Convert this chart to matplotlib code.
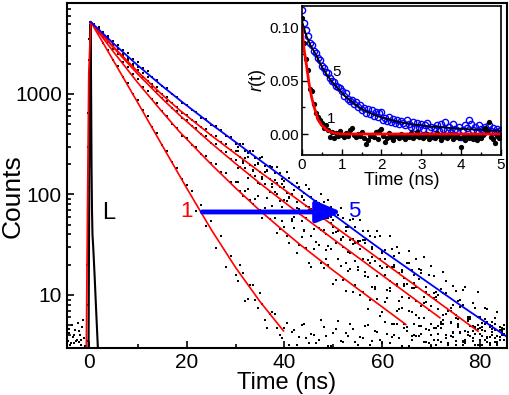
import numpy as np
import matplotlib
matplotlib.use("Agg")
import matplotlib.pyplot as plt
from matplotlib.ticker import MultipleLocator, LogLocator, NullFormatter, FixedLocator

plt.rcParams['font.family'] = ['Liberation Sans', 'DejaVu Sans']
plt.rcParams['mathtext.fontset'] = 'custom'
plt.rcParams['mathtext.it'] = 'Liberation Sans:italic'
plt.rcParams['mathtext.rm'] = 'Liberation Sans'

# ---- main decay data (counts at 1 ns channels, t = 1..85 ns) ----
t_start, t_stop = 1, 85

counts_1 = [4740, 4010, 3210, 2740, 2180, 1880, 1490, 1280, 1010, 875, 690, 598, 468, 405, 314, 272, 211, 184, 141, 125,
            108, 69, 79, 48.6, 55, 29.2, 39, 18.8, 24.2, 15.9, 20.1, 8.8, 12.6, 8.9, 10.5, 5.6, 6.4, 6.5, 4.0, 4.7,
            3.2, 4.5, 3.8, 5.1, 3.3, 4.0, 3.6, 4.8, 3.1, 4.2, 5.5, 3.4, 3.9, 4.6, 3.2, 3.7, 5.0, 3.5, 4.3, 3.3,
            4.1, 3.8, 5.2, 3.1, 4.4, 3.6, 3.9, 4.9, 3.4, 4.0, 3.2, 4.7, 3.7, 5.3, 3.5, 4.2, 3.3, 3.9, 4.8, 3.6,
            4.4, 3.2, 5.1, 3.8, 4.0]
counts_2 = [4880, 4330, 3680, 3270, 2770, 2480, 2090, 1870, 1570, 1420, 1180, 1070, 890, 805, 670, 610, 505, 462, 385, 366,
            312, 299, 252, 244, 204, 199, 166, 162, 134, 133, 108, 109, 88, 90, 70, 73, 57, 59, 45, 48,
            32.8, 46, 31.4, 43.4, 21, 28.6, 31.2, 18.7, 20, 13, 23, 14.1, 17.4, 10.6, 17.7, 10.6, 7.2, 11.9, 9.1, 6.8,
            11.1, 5.1, 6.9, 7.5, 4.8, 3.9, 6.3, 4.1, 4.6, 3.1, 4.7, 3.4, 4.0, 5.4, 3.2, 4.3, 3.6, 4.9, 3.2, 4.1,
            5.8, 3.3, 4.5, 3.8, 5.0]
counts_3 = [4950, 4490, 3900, 3530, 3060, 2790, 2410, 2190, 1890, 1730, 1490, 1360, 1170, 1080, 920, 850, 725, 670, 575, 550,
            478, 458, 396, 382, 328, 318, 272, 264, 225, 221, 187, 184, 155, 153, 128, 127, 106, 106, 87, 88,
            92, 59.5, 70, 44, 70, 45, 46, 56.7, 31, 41.4, 23, 37.5, 26.6, 36.4, 19.2, 23, 15, 23.9, 15.3, 18.7,
            9.4, 19.1, 12.2, 9.5, 12.9, 6.7, 11.9, 7.7, 8.5, 5.1, 9.5, 5.2, 6.4, 3.9, 6.3, 4.2, 3.4, 4.9, 4.1, 3.2,
            5.2, 3.8, 3.4, 4.5, 4.1]
counts_4 = [4960, 4530, 3950, 3610, 3150, 2890, 2510, 2300, 2000, 1840, 1600, 1460, 1270, 1170, 1010, 935, 805, 745, 650, 620,
            550, 525, 465, 445, 392, 378, 331, 320, 280, 271, 236, 230, 198, 195, 168, 166, 141, 140, 118, 119,
            94.5, 111.5, 71, 102.5, 75, 59.5, 83, 44, 59, 47.5, 62, 30, 47, 32.5, 34.5, 43.5, 22.5, 30, 15.6, 27.5,
            19, 28.5, 12.8, 17.6, 12.8, 17.7, 8.8, 16.7, 10.6, 7.8, 10.8, 5.4, 10.4, 7.4, 5.9, 9, 4.4, 6.1, 4.7, 6.0,
            3.6, 4.8, 3.7, 4.8, 3.6]
counts_5 = [5010, 4620, 4090, 3790, 3340, 3100, 2730, 2540, 2220, 2080, 1820, 1710, 1480, 1390, 1210, 1140, 990, 940, 815, 785,
            690, 665, 580, 565, 490, 480, 440, 380, 375, 320, 318, 270, 270, 228, 230, 192, 193, 163, 165, 136,
            146, 110, 118, 88, 114, 83, 64, 85, 88, 56, 43, 58, 49, 57, 34, 35, 43, 29, 43, 26,
            19, 29, 30, 17, 21, 11.7, 23, 17.6, 11.9, 19.5, 9, 11.5, 13.8, 6.9, 10.9, 7.6, 12.1, 5.8, 7.4, 4.7,
            7.4, 5.0, 5.9, 3.6, 4.6]

# tail readings at the half-channel times, t = 30.5..84.5 ns
half_start, half_stop = 30.5, 84.5
tail_1 = [13.9, 16.4, 9.2, 12.6, 7.4, 8.1, 4.7, 6.8, 4.7, 3.7, 5.3,
          4.3, 3.2, 5.0, 3.7, 4.1, 3.3, 5.6, 3.9, 3.1, 4.6, 3.5, 4.2, 5.2, 3.4, 3.8, 4.9, 3.2, 4.4, 3.6, 5.4,
          3.3, 4.0, 3.7, 4.7, 3.1, 5.1, 3.9, 3.4, 4.5, 3.6, 4.1, 5.7, 3.3, 3.8, 4.8, 3.2, 4.3, 3.5, 5.0, 3.9,
          3.4, 4.6, 3.2, 4.0]
tail_2 = [133, 96, 114, 80, 96, 59, 68, 77, 41, 55, 39, 55, 26, 38, 29.5, 19, 34, 21, 23, 29,
          14.2, 19.6, 10.9, 18, 12.7, 9.9, 15.5, 8.9, 11.4, 6.2, 8.5, 11, 5.2, 7.2, 5.2, 6.9, 4.0, 4.9, 5.9, 3.3,
          4.7, 3.6, 5.2, 3.2, 4.3, 5.8, 3.4, 4.0, 4.9, 3.2, 4.5, 3.8, 5.4, 3.3, 4.3]
tail_3 = [183, 207, 145, 177, 129, 141, 93, 127, 101, 75, 104, 57, 74, 55, 76, 39, 58, 44, 28, 52.5,
          33, 36, 21, 35, 22, 34.5, 17, 21, 12, 22.8, 15.8, 11.7, 19.7, 8.8, 12.8, 9.4, 13.2, 5.9, 9.6, 7.1,
          10.4, 4.9, 6.3, 6.9, 4.2, 5.2, 3.5, 5.5, 3.7, 4.6, 3.2, 5.4, 4.0, 3.4, 4.7]
tail_4 = [268, 214, 235, 173, 203, 150, 176, 120, 130, 143, 87, 126, 84, 94, 58.5, 94, 64, 73, 40, 60,
          65, 35, 43, 26, 48, 29, 35, 21, 37.5, 19.6, 23, 13.7, 24.3, 16.5, 12.4, 20.7, 11.7, 14.4, 8.3, 15.8,
          9.4, 7.3, 10.4, 6.9, 8.0, 5.0, 8.0, 5.8, 4.4, 6.1, 4.8, 3.7, 4.9, 3.9, 4.5]
tail_5 = [298, 318, 257, 273, 205, 235, 170, 187, 189, 128, 166, 102, 129, 96, 124, 71, 87, 100, 58, 75,
          42, 74, 48, 56, 33, 56, 33, 38.5, 22, 39, 28, 39, 19, 26.4, 14.8, 27.6, 15.8, 18.2, 24, 10.1,
          15.6, 9.9, 17, 7.1, 12.2, 8.7, 11.3, 6.0, 8.3, 10.6, 5.3, 7.2, 4.3, 6.8, 4.7]

# baseline before the pulse and the rising edge
bg_t = [-4.3, -4.0, -3.8, -3.5, -3.3, -3.0, -2.8, -2.5, -2.3, -2.0, -1.8, -1.5, -1.3, -1.0, -0.8,
        -4.1, -3.6, -3.1, -2.6, -2.1, -1.6, -1.1]
bg_counts = [3.5, 4.2, 3.2, 5.0, 3.8, 3.3, 4.5, 3.6, 5.3, 3.4, 4.0, 3.2, 4.8, 3.7, 3.1,
             4.6, 3.3, 4.0, 3.5, 4.4, 3.6, 5.6]
rise_t = [-0.4, -0.35, -0.3, -0.25, -0.2, -0.15, -0.1, -0.05, 0.0, 0.1, 0.2, 0.3]
rise_counts = [3.5, 8, 20, 50, 120, 300, 650, 1300, 2200, 3500, 4600, 5200]

# fitted curves (knots)
fit_rise_t = [-0.5, -0.25, 0.0, 0.4]
fit_rise_c = [3, 80, 1600, 5200]
fit1_t = [0.4, 5, 10, 15, 20, 25, 30, 35, 39.8]
fit1_c = [5200, 2158, 820, 308, 116, 45, 18.8, 8.6, 4.4]
fit2_t = [0.4, 5, 10, 15, 18.5, 25, 30, 35, 40, 43.1, 50, 55, 60, 64.8]
fit2_c = [5200, 2640, 1294, 664, 423, 200, 116, 69, 42.7, 32, 17.5, 11.5, 7.6, 5.1]
fit3_t = [0.4, 5, 10, 15, 18.5, 25, 30, 35, 40, 43.1, 50, 60, 71.8]
fit3_c = [5200, 2904, 1578, 897, 619, 325, 203, 129, 83.6, 64.1, 35.9, 15.7, 5.93]
fit4_t = [0.4, 5, 10, 15, 18.5, 25, 30, 35, 43.1, 60, 79.6]
fit4_c = [5200, 2965, 1667, 982, 695, 388, 254, 167.5, 86.1, 21.6, 4.36]
fit5_t = [0.4, 5, 10, 15, 19, 25, 30, 35, 40, 46.6, 55, 60.1, 67.1, 76.5, 85.3]
fit5_c = [5200, 3192, 1923, 1199, 838, 502, 332, 219, 145, 83.8, 41.7, 27.5, 15.9, 7.6, 3.9]

# laser pulse (IRF)
L_t = [-0.05, 0.15, 0.35, 0.45, 0.55, 0.65, 0.75, 0.9, 1.2, 1.5, 1.85]
L_c = [3, 800, 5000, 1500, 200, 70, 40, 30, 15, 7, 3]

# ---- inset: anisotropy r(t), 0.05 ns channels from 0 to 5 ns ----
r_step = 0.05
r5 = [0.116, 0.104, 0.097, 0.092, 0.085, 0.083, 0.078, 0.076, 0.071, 0.069,
      0.064, 0.062, 0.058, 0.057, 0.052, 0.050, 0.049, 0.045, 0.044, 0.043,
      0.040, 0.036, 0.038, 0.033, 0.031, 0.032, 0.028, 0.030, 0.025, 0.027,
      0.022, 0.024, 0.020, 0.023, 0.019, 0.022, 0.017, 0.021, 0.016, 0.020,
      0.021, 0.013, 0.015, 0.012, 0.016, 0.011, 0.014, 0.010, 0.013, 0.009,
      0.012, 0.010, 0.008, 0.013, 0.009, 0.007, 0.011, 0.006, 0.010, 0.007,
      0.009, 0.005, 0.008, 0.010, 0.004, 0.007, -0.002, 0.006, 0.008, 0.003,
      0.009, 0.005, 0.011, 0.004, 0.007, 0.002, 0.009, 0.005, 0.003, 0.007,
      -0.003, 0.004, 0.008, 0.006, 0.013, 0.009, 0.004, 0.007, 0.002, 0.008,
      0.005, 0.001, 0.007, 0.004, 0.008, 0.003, 0.006, 0.002, 0.005, 0.003, 0.004]
r1 = [0.108, 0.085, 0.070, 0.060, 0.042, 0.040, 0.028, 0.020, 0.016, 0.013,
      0.010, 0.006, 0.008, 0.004, -0.003, 0.002, -0.004, 0.001, -0.002, 0.003,
      -0.001, -0.003, 0.001, -0.002, 0.004, 0.006, -0.001, -0.003, 0.000, -0.002,
      0.002, -0.004, -0.009, -0.006, -0.002, -0.001, -0.003, 0.002, -0.005, 0.003,
      0.005, -0.002, -0.007, -0.004, 0.001, -0.003, -0.006, -0.002, -0.001, -0.004,
      0.000, -0.003, -0.005, -0.001, -0.003, 0.001, -0.004, -0.002, 0.002, -0.003,
      -0.001, -0.004, -0.002, 0.000, -0.005, -0.003, -0.001, -0.004, 0.001, -0.002,
      -0.006, -0.003, -0.001, -0.004, -0.002, 0.000, -0.005, -0.003, -0.001, -0.004,
      -0.012, -0.003, -0.006, -0.002, -0.004, -0.001, -0.005, -0.003, -0.006, -0.002,
      -0.004, -0.001, 0.006, 0.003, 0.011, -0.003, -0.005, -0.008, -0.002, -0.004, -0.003]
rfit1_t = [0, 0.05, 0.12, 0.18, 0.24, 0.3, 0.41, 0.5, 0.65, 0.8, 1.0, 5.0]
rfit1_r = [0.100, 0.080, 0.063, 0.047, 0.035, 0.026, 0.013, 0.008, 0.003, 0.001, 0.0, 0.0]
rfit5_t = [0, 0.1, 0.2, 0.33, 0.5, 0.65, 0.8, 1.08, 1.3, 1.5, 1.75, 2.0, 2.4, 2.76, 3.2, 3.6, 4.2, 5.0]
rfit5_r = [0.106, 0.093, 0.084, 0.0757, 0.063, 0.054, 0.047, 0.0355, 0.029, 0.0235, 0.019, 0.0155,
           0.0115, 0.0092, 0.0072, 0.006, 0.0045, 0.003]

fig = plt.figure(figsize=(5.1, 3.95), dpi=100)
ax = fig.add_axes([0.131, 0.119, 0.863, 0.873])

dot = dict(ls='none', marker='s', color='black', ms=1.6, mew=0)
t_main = np.arange(t_start, t_stop + 1)
t_half = np.arange(half_start, half_stop + 0.5, 1.0)
for cnt in [counts_1, counts_2, counts_3, counts_4, counts_5]:
    ax.plot(t_main, cnt, **dot)
for cnt in [tail_1, tail_2, tail_3, tail_4, tail_5]:
    ax.plot(t_half, cnt, **dot)
ax.plot(bg_t, bg_counts, **dot)
ax.plot(rise_t, rise_counts, **dot)

ax.plot(L_t, L_c, color='black', lw=1.5)
ax.plot(fit_rise_t, fit_rise_c, color='red', lw=1.3)
for ft, fc in [(fit1_t, fit1_c), (fit2_t, fit2_c), (fit3_t, fit3_c), (fit4_t, fit4_c)]:
    ax.plot(ft, fc, color='red', lw=1.2)
ax.plot(fit5_t, fit5_c, color='blue', lw=1.3)

ax.annotate('', xy=(51.7, 67), xytext=(23.2, 67),
            arrowprops=dict(arrowstyle='-|>,head_length=0.75,head_width=0.32',
                            color='blue', lw=3.5, mutation_scale=20, shrinkA=0, shrinkB=0))
ax.text(19.9, 67, '1', color='red', fontsize=16, ha='center', va='center')
ax.text(54.2, 67, '5', color='blue', fontsize=16, ha='center', va='center')
ax.text(4.1, 65, 'L', color='black', fontsize=17, ha='center', va='center')

ax.set_yscale('log')
ax.set_xlim(-4.5, 85.5)
ax.set_ylim(2.97, 8000)
ax.xaxis.set_major_locator(FixedLocator([0, 20, 40, 60, 80]))
ax.xaxis.set_minor_locator(FixedLocator([10, 30, 50, 70]))
ax.yaxis.set_major_locator(FixedLocator([10, 100, 1000]))
ax.yaxis.set_major_formatter(plt.FixedFormatter(['10', '100', '1000']))
ax.yaxis.set_minor_locator(LogLocator(base=10, subs=np.arange(2, 10)))
ax.yaxis.set_minor_formatter(NullFormatter())
ax.tick_params(which='both', direction='in', top=False, right=False, labelsize=15, width=1.2)
ax.tick_params(which='major', length=5)
ax.tick_params(which='minor', length=3)
for s in ax.spines.values():
    s.set_linewidth(1.5)
ax.set_xlabel('Time (ns)', fontsize=17, labelpad=0)
ax.set_ylabel('Counts', fontsize=19)
ax.yaxis.set_label_coords(-0.095, 0.44)

# ---- inset ----
axi = fig.add_axes([0.592, 0.6076, 0.390, 0.377])
t_r = np.arange(len(r5)) * r_step
axi.plot(t_r, r5, 'o', mfc='none', mec='blue', ms=4.5, mew=1.0)
axi.plot(t_r, r1, 'o', color='black', ms=3.8, mew=0)
axi.plot(rfit5_t, rfit5_r, color='black', lw=1.3)
axi.plot(rfit1_t, rfit1_r, color='red', lw=2)
axi.text(0.86, 0.058, '5', fontsize=11, ha='center', va='center')
axi.text(0.74, 0.014, '1', fontsize=11, ha='center', va='center')
axi.set_xlim(0, 5)
axi.set_ylim(-0.0196, 0.1196)
axi.xaxis.set_major_locator(MultipleLocator(1))
axi.xaxis.set_minor_locator(MultipleLocator(0.5))
axi.yaxis.set_major_locator(MultipleLocator(0.05))
axi.yaxis.set_minor_locator(MultipleLocator(0.025))
axi.yaxis.set_major_formatter(plt.FormatStrFormatter('%.2f'))
axi.tick_params(which='both', direction='in', top=False, right=False, labelsize=11, width=1)
axi.tick_params(which='major', length=4, pad=2)
axi.tick_params(which='minor', length=2)
for s in axi.spines.values():
    s.set_linewidth(1.2)
axi.set_xlabel('Time (ns)', fontsize=13, labelpad=0)
axi.set_ylabel(r'$\mathit{r}$(t)', fontsize=13, labelpad=1)

fig.savefig('out.png', dpi=100)
